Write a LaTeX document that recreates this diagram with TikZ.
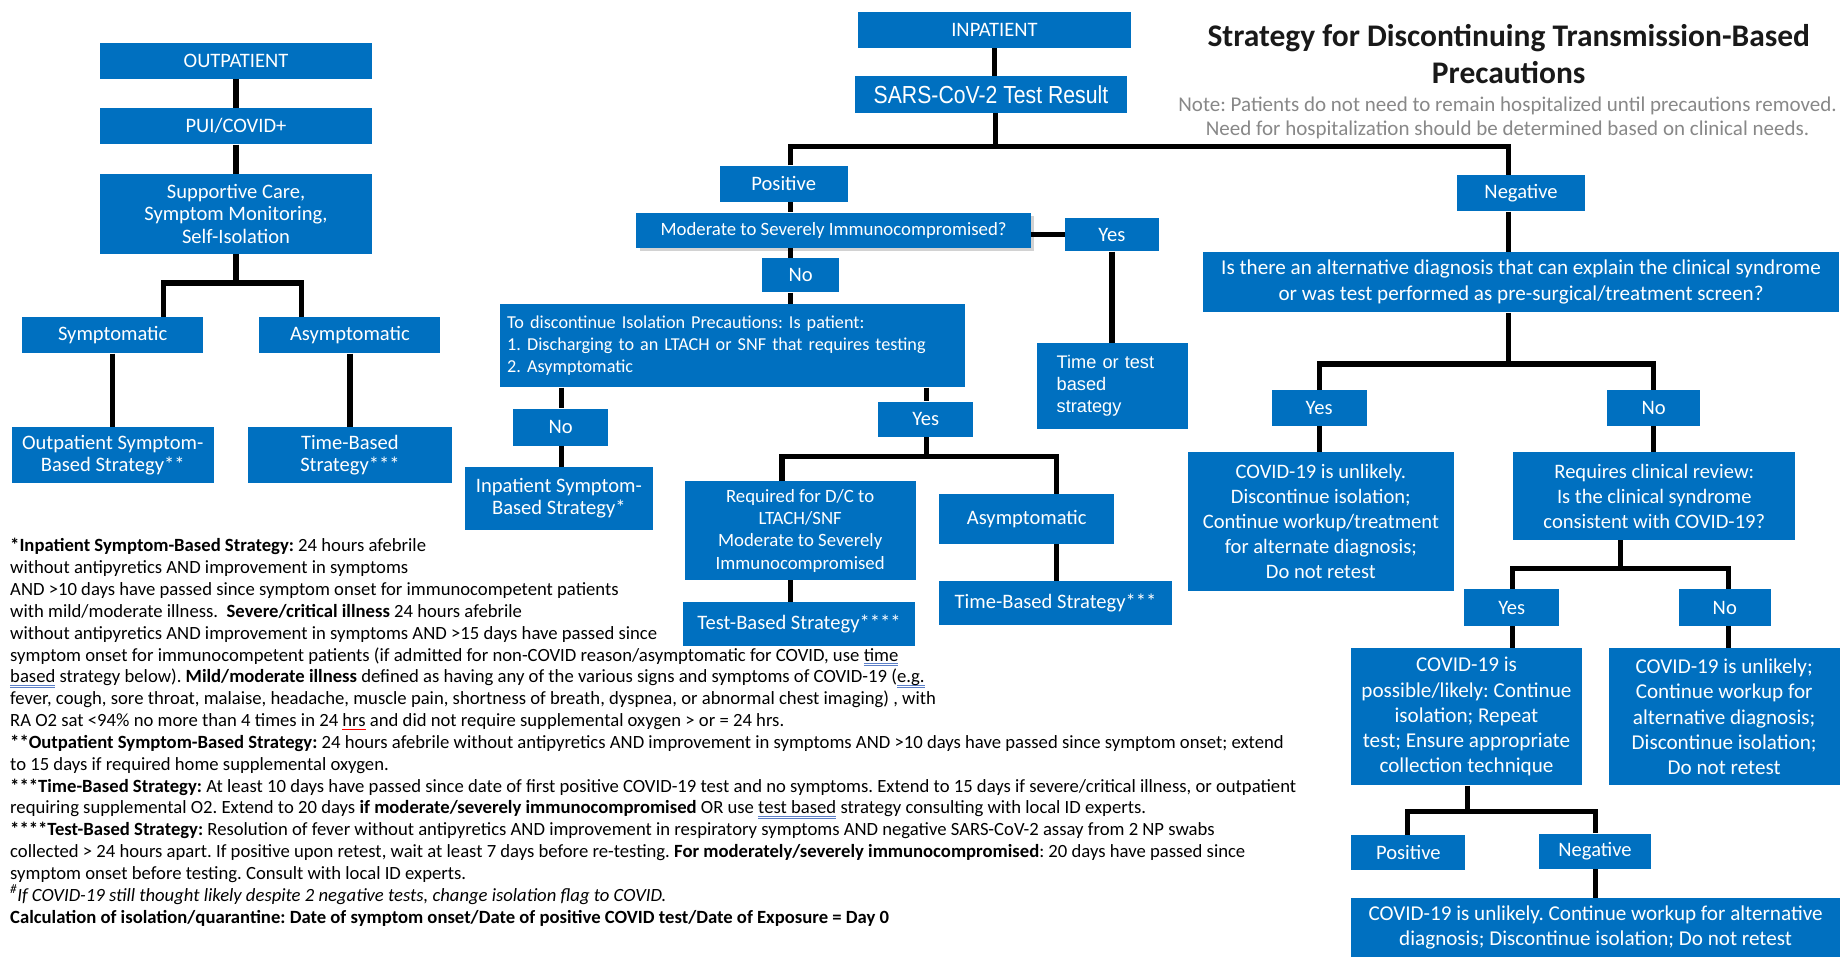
\documentclass[tikz,border=0pt]{standalone}
\usepackage{fontspec}
\setmainfont{Carlito}
\newfontfamily\arialf{Liberation Sans}
\usetikzlibrary{shadows}
\definecolor{boxblue}{HTML}{0070C0}
\definecolor{notegray}{HTML}{888888}
\definecolor{spellblue}{HTML}{5B7FC7}
\tikzset{
  box/.style={fill=boxblue, text=white, inner sep=0pt, align=center, font=\fontsize{17.5}{19}\selectfont},
  conn/.style={line width=4.5pt, draw=black, line join=miter},
}
\newcommand\BoxAt[7][]{\node[box,minimum width={(#5-#3)*1pt},minimum height={(#6-#4)*1pt},#1] (#2) at ({(#3+#5)/2},{(#4+#6)/2}) {#7};}
\newsavebox\spbox
\newcommand\spellu[1]{\sbox\spbox{#1}\rlap{\textcolor{spellblue}{\rule[-2.4pt]{\wd\spbox}{0.7pt}}}\rlap{\textcolor{spellblue}{\rule[-4.2pt]{\wd\spbox}{0.7pt}}}\usebox\spbox}
\newcommand\spellw[1]{\sbox\spbox{#1}\rlap{\textcolor{red}{\rule[-3pt]{\wd\spbox}{0.6pt}}}\usebox\spbox}
\frenchspacing
\begin{document}
\frenchspacing
\begin{tikzpicture}[x=1pt,y=-1pt]
\useasboundingbox[fill=white] (0,0) rectangle (1568,815);

% ---------- Outpatient column
\BoxAt{out}{85}{37}{317}{67}{OUTPATIENT}
\BoxAt{pui}{85}{92}{317}{123}{PUI/COVID+}
\BoxAt{sup}{85}{148}{317}{216}{Supportive Care,\\Symptom Monitoring,\\Self-Isolation}
\BoxAt{sym}{19}{270}{173}{301}{Symptomatic}
\BoxAt{asym}{221}{270}{375}{301}{Asymptomatic}
\BoxAt{osb}{10}{364}{182}{411}{Outpatient Symptom-\\Based Strategy**}
\BoxAt{tbs}{211}{364}{385}{411}{Time-Based\\Strategy***}

% ---------- Inpatient column
\BoxAt{inp}{731}{10}{963}{41}{INPATIENT}
\BoxAt[font=\arialf\fontsize{21}{22}\selectfont]{sars}{728}{65}{960}{96}{\scalebox{0.86}[1]{SARS-CoV-2 Test Result}}
\BoxAt{pos}{613}{141}{722}{172}{Positive}
\BoxAt[font=\fontsize{16}{19}\selectfont, drop shadow={shadow xshift=3pt, shadow yshift=-3pt, opacity=0.35}]{mod}{542}{181}{878}{211}{Moderate to Severely Immunocompromised?}
\BoxAt{yes1}{907}{186}{987}{214}{Yes}
\BoxAt{no1}{649}{220}{715}{249}{No}
\BoxAt[font=\fontsize{15.5}{19}\selectfont\frenchspacing, align=left, text width=384pt]{disc}{426}{259}{822}{330}{To discontinue Isolation Precautions: Is patient:\\1. Discharging to an LTACH or SNF that requires testing\\2. Asymptomatic}
\BoxAt[font=\arialf\fontsize{15.5}{18.8}\selectfont, align=left, text width=95pt]{tot}{883}{292}{1012}{365}{Time or test\\based\\strategy}
\BoxAt{no2}{437}{348}{518}{380}{No}
\BoxAt{isb}{396}{398}{556}{451}{Inpatient Symptom-\\Based Strategy*}
\BoxAt{yes2}{748}{342}{829}{372}{Yes}
\BoxAt[font=\fontsize{16}{19}\selectfont]{req}{583}{410}{780}{494}{Required for D/C to\\LTACH/SNF\\Moderate to Severely\\Immunocompromised}
\BoxAt{asym2}{800}{421}{949}{463}{Asymptomatic}
\BoxAt{tbs2}{582}{513}{779}{550}{Test-Based Strategy****}
\BoxAt{tb2}{800}{495}{998}{532}{Time-Based Strategy***}

% ---------- Negative branch
\BoxAt{neg}{1241}{149}{1350}{180}{Negative}
\BoxAt[font=\fontsize{18}{22}\selectfont]{isthere}{1025}{215}{1566}{266}{Is there an alternative diagnosis that can explain the clinical syndrome\\or was test performed as pre-surgical/treatment screen?}
\BoxAt{yes3}{1083}{332}{1164}{363}{Yes}
\BoxAt{no3}{1369}{332}{1448}{363}{No}
\BoxAt[font=\fontsize{17.5}{21.3}\selectfont\frenchspacing]{unl1}{1012}{385}{1238}{503}{COVID-19 is unlikely.\\Discontinue isolation;\\Continue workup/treatment\\for alternate diagnosis;\\Do not retest}
\BoxAt[font=\fontsize{17.5}{21.3}\selectfont\frenchspacing]{req3}{1289}{385}{1529}{460}{Requires clinical review:\\Is the clinical syndrome\\consistent with COVID-19?}
\BoxAt{yes4}{1247}{502}{1328}{533}{Yes}
\BoxAt{no4}{1430}{502}{1508}{533}{No}
\BoxAt[font=\fontsize{18}{21.5}\selectfont\frenchspacing]{poss}{1151}{552}{1347}{669}{COVID-19 is\\possible/likely: Continue\\isolation; Repeat\\test; Ensure appropriate\\collection technique}
\BoxAt[font=\fontsize{18}{21.5}\selectfont\frenchspacing]{unl2}{1370}{552}{1567}{669}{COVID-19 is unlikely;\\Continue workup for\\alternative diagnosis;\\Discontinue isolation;\\Do not retest}
\BoxAt{pos5}{1151}{711}{1248}{741}{Positive}
\BoxAt{neg5}{1311}{710}{1406}{740}{Negative}
\BoxAt[font=\fontsize{18}{21.5}\selectfont\frenchspacing]{bot}{1151}{765}{1567}{815}{COVID-19 is unlikely. Continue workup for alternative\\diagnosis; Discontinue isolation; Do not retest}

% ---------- Title and note
\node[align=center, font=\fontsize{26.8}{32}\selectfont\bfseries, text=black!90] (title) at (1285,46) {Strategy for Discontinuing Transmission-Based\\Precautions};
\node[align=center, font=\fontsize{17.9}{21}\selectfont\frenchspacing, text=notegray] (note) at (1284,100.5) {Note: Patients do not need to remain hospitalized until precautions removed.\\Need for hospitalization should be determined based on clinical needs.};

% ---------- Footnotes
\node[anchor=north west, inner sep=0pt, align=left, font=\fontsize{15.9}{18.6}\selectfont\frenchspacing] (notes) at (8.5,458.5) {%
\textbf{*Inpatient Symptom-Based Strategy:} 24 hours afebrile\\
without antipyretics AND improvement in symptoms\\
AND >10 days have passed since symptom onset for immunocompetent patients\\
with mild/moderate illness.\ \ \textbf{Severe/critical illness} 24 hours afebrile\\
without antipyretics AND improvement in symptoms AND >15 days have passed since\\
symptom onset for immunocompetent patients (if admitted for non-COVID reason/asymptomatic for COVID, use \spellu{time}\\
\spellu{based} strategy below). \textbf{Mild/moderate illness} defined as having any of the various signs and symptoms of COVID-19 (\spellu{e.g.}\\
fever, cough, sore throat, malaise, headache, muscle pain, shortness of breath, dyspnea, or abnormal chest imaging) , with\\
RA O2 sat <94\% no more than 4 times in 24 \spellw{hrs} and did not require supplemental oxygen > or = 24 hrs.\\
\textbf{**Outpatient Symptom-Based Strategy:} 24 hours afebrile without antipyretics AND improvement in symptoms AND >10 days have passed since symptom onset; extend\\
to 15 days if required home supplemental oxygen.\\
\textbf{***Time-Based Strategy:} At least 10 days have passed since date of first positive COVID-19 test and no symptoms. Extend to 15 days if severe/critical illness, or outpatient\\
requiring supplemental O2. Extend to 20 days \textbf{if moderate/severely immunocompromised} OR use \spellu{test based} strategy consulting with local ID experts.\\
\textbf{****Test-Based Strategy:} Resolution of fever without antipyretics AND improvement in respiratory symptoms AND negative SARS-CoV-2 assay from 2 NP swabs\\
collected > 24 hours apart. If positive upon retest, wait at least 7 days before re-testing. \textbf{For moderately/severely immunocompromised}: 20 days have passed since\\
symptom onset before testing. Consult with local ID experts.\\
\textit{\textsuperscript{\#}If COVID-19 still thought likely despite 2 negative tests, change isolation flag to COVID.}\\
\textbf{Calculation of isolation/quarantine: Date of symptom onset/Date of positive COVID test/Date of Exposure = Day 0}};

% ---------- Connectors: outpatient
\draw[conn] (out) -- (pui);
\draw[conn] (pui) -- (sup);
\coordinate (oj) at (201,241);
\coordinate (ojl) at (139,241);
\coordinate (ojr) at (257,241);
\draw[conn] (sup.south) -- (oj);
\draw[conn] (sym.north -| ojl) -- (ojl) -- (ojr) -- (asym.north -| ojr);
\draw[conn] (sym) -- (osb);
\draw[conn] (asym) -- (tbs);

% ---------- Connectors: inpatient
\draw[conn] (inp.south) -- (inp.south |- sars.north);
\coordinate (mj) at (848,125);
\coordinate (mjl) at (673,125);
\coordinate (mjr) at (1285,125);
\draw[conn] (sars.south -| mj) -- (mj);
\draw[conn] (pos.north -| mjl) -- (mjl) -- (mjr) -- (neg.north -| mjr);
\draw[conn] (pos.south -| mjl) -- (mod.north -| mjl);
\draw[conn] (mod.south -| mjl) -- (no1.north -| mjl);
\draw[conn] (no1.south -| mjl) -- (disc.north -| mjl);
\draw[conn] (mod.east |- yes1.west) -- (yes1.west);
\draw[conn] (yes1.south) -- (yes1.south |- tot.north);
\coordinate (dl) at (478,0);
\coordinate (dr) at (789,0);
\draw[conn] (disc.south -| dl) -- (no2.north -| dl);
\draw[conn] (no2.south -| dl) -- (isb.north -| dl);
\draw[conn] (disc.south -| dr) -- (yes2.north -| dr);
\coordinate (yj) at (789,389);
\coordinate (yjl) at (666,389);
\coordinate (yjr) at (900,389);
\draw[conn] (yes2.south -| yj) -- (yj);
\draw[conn] (req.north -| yjl) -- (yjl) -- (yjr) -- (asym2.north -| yjr);
\coordinate (rv) at (673,0);
\draw[conn] (req.south -| rv) -- (tbs2.north -| rv);
\draw[conn] (asym2.south -| yjr) -- (tb2.north -| yjr);

% ---------- Connectors: negative branch
\draw[conn] (neg.south -| mjr) -- (isthere.north -| mjr);
\coordinate (ij) at (1285,310);
\coordinate (ijl) at (1124,310);
\coordinate (ijr) at (1408,310);
\draw[conn] (isthere.south -| ij) -- (ij);
\draw[conn] (yes3.north -| ijl) -- (ijl) -- (ijr) -- (no3.north -| ijr);
\draw[conn] (yes3.south -| ijl) -- (unl1.north -| ijl);
\draw[conn] (no3.south -| ijr) -- (req3.north -| ijr);
\coordinate (rj) at (1380,484);
\coordinate (rjl) at (1288,484);
\coordinate (rjr) at (1472,484);
\draw[conn] (req3.south -| rj) -- (rj);
\draw[conn] (yes4.north -| rjl) -- (rjl) -- (rjr) -- (no4.north -| rjr);
\draw[conn] (yes4.south -| rjl) -- (poss.north -| rjl);
\draw[conn] (no4.south -| rjr) -- (unl2.north -| rjr);
\coordinate (pj) at (1250,691);
\coordinate (pjl) at (1199,691);
\coordinate (pjr) at (1359,691);
\draw[conn] (poss.south -| pj) -- (pj);
\draw[conn] (pos5.north -| pjl) -- (pjl) -- (pjr) -- (neg5.north -| pjr);
\draw[conn] (neg5.south -| pjr) -- (bot.north -| pjr);
\end{tikzpicture}
\end{document}
